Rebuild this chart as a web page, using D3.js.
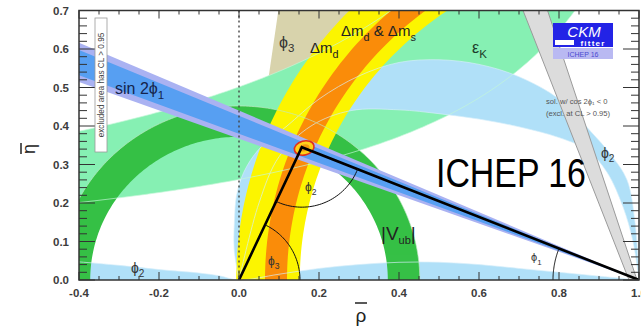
<!DOCTYPE html>
<html><head><meta charset="utf-8">
<script src="https://cdn.jsdelivr.net/npm/d3@7"></script>
<style>body{margin:0;background:#fff}svg{display:block}</style>
</head><body>
<svg id="c" width="641" height="328"></svg>
<script>
// ---------------- data ----------------
const xTicks = [-0.4, -0.2, 0.0, 0.2, 0.4, 0.6, 0.8, 1.0];
const yTicks = [0.0, 0.1, 0.2, 0.3, 0.4, 0.5, 0.6, 0.7];
const apex = [0.157, 0.345];                 // rho-bar, eta-bar of best fit
const vubRadii = [0.372, 0.452];             // |Vub| circle around (0,0)
const dmdRadii = [0.848, 1.007];             // Delta m_d circle around (1,0)
const dmsRadii = [0.88, 0.935];              // Delta m_d & Delta m_s
const sin2bOuter = [20.16, 23.75];           // angle beta (deg) from (1,0)
const sin2bInner = [20.8, 23.1];
const gammaAngles = [62, 82];                // angle gamma (deg) from (0,0)
const epsKk = [0.35, 0.672];                 // eta = k/(a - rho)
const epsKa = 1.34;
const alphaOuter = [[0.0,0.0],[-0.012,0.08],[-0.011,0.16],[-0.006,0.22],[0.012,0.28],[0.05,0.34],[0.12,0.40],[0.2,0.47],[0.3,0.53],[0.4,0.565],[0.5,0.572],[0.6,0.56],[0.7,0.528],[0.8,0.47],[0.88,0.385],[0.93,0.325],[0.97,0.26],[0.99,0.15],[1.0,0.0]];
const alphaInner = [[0.0,0.0],[0.05,0.2],[0.1,0.32],[0.18,0.40],[0.28,0.44],[0.4,0.442],[0.5,0.432],[0.6,0.418],[0.7,0.398],[0.8,0.37],[0.87,0.338],[0.92,0.28],[0.96,0.19],[0.985,0.1],[1.0,0.0]];
const alphaStrip = [[-0.45,0.05],[-0.4,0.047],[-0.3,0.038],[-0.2,0.027],[-0.1,0.018],[-0.05,0.011],[0.0,0.0],[0.1,0.015],[0.2,0.03],[0.3,0.04],[0.4,0.046],[0.5,0.046],[0.6,0.04],[0.7,0.03],[0.8,0.02],[0.9,0.01],[1.0,0.0]];
const cos2bBand = [[0.7025,0.72],[0.765,0.72],[0.995,0.0],[0.975,0.0]];

// ---------------- setup ----------------
const svg = d3.select('#c');
const x = d3.scaleLinear().domain([-0.4, 1.0]).range([79, 639]);
const y = d3.scaleLinear().domain([0, 0.7]).range([280, 10.5]);
const line = d3.line().x(d => x(d[0])).y(d => y(d[1]));
const smooth = d3.line().x(d => x(d[0])).y(d => y(d[1])).curve(d3.curveCatmullRom);
const rad = Math.PI / 180;

svg.append('defs').append('clipPath').attr('id', 'plot')
  .append('rect').attr('x', x(-0.4)).attr('y', y(0.7)).attr('width', x(1.0) - x(-0.4)).attr('height', y(0) - y(0.7));
const g = svg.append('g').attr('clip-path', 'url(#plot)');

function arcPts(cx, cy, r, a0, a1) {
  const pts = []; const s = a1 >= a0 ? 1 : -1;
  for (let a = a0; s * (a1 - a) >= 0; a += s) pts.push([cx + r * Math.cos(a * rad), cy + r * Math.sin(a * rad)]);
  return pts;
}
function annulus(cx, cy, r1, r2) {
  return line(arcPts(cx, cy, r2, 0, 180).concat(arcPts(cx, cy, r1, 180, 0))) + 'Z';
}
function wedge(cx, cy, a1, a2, L) {
  const pts = [[cx, cy]];
  for (let i = 0; i <= 40; i++) { const a = (a1 + (a2 - a1) * i / 40) * rad; pts.push([cx + L * Math.cos(a), cy + L * Math.sin(a)]); }
  return line(pts) + 'Z';
}
const epsLo = [], epsHi = [];
for (let r = -0.45; r <= 1.06; r += 0.01) { epsLo.push([r, epsKk[0] / (epsKa - r)]); epsHi.push([r, Math.min(2, epsKk[1] / (epsKa - r))]); }

// gamma (phi3)
g.append('path').attr('d', wedge(0, 0, gammaAngles[0], gammaAngles[1], 2)).attr('fill', '#d8d3ad');
// epsilon_K
g.append('path').attr('d', line(epsLo.concat(epsHi.slice().reverse())) + 'Z').attr('fill', '#86f0b3');
// alpha (phi2)
g.append('path').attr('d', smooth(alphaOuter) + 'L' + smooth(alphaInner.slice().reverse()).slice(1) + 'Z').attr('fill', '#b0e0f8');
g.append('path').attr('d', smooth(alphaStrip) + 'L' + x(1.0) + ',' + y(0) + 'L' + x(-0.45) + ',' + y(0) + 'Z').attr('fill', '#b0e0f8');
// |Vub|
g.append('path').attr('d', annulus(0, 0, vubRadii[0], vubRadii[1])).attr('fill', '#36c046');
// Delta m
g.append('path').attr('d', annulus(1, 0, dmdRadii[0], dmdRadii[1])).attr('fill', '#fcf500');
g.append('path').attr('d', annulus(1, 0, dmsRadii[0], dmsRadii[1])).attr('fill', '#fa8c0a');

// pale contour lines of other constraints, drawn over the filled bands
const pale = g.append('g').attr('fill', 'none').attr('stroke-width', 0.9).attr('opacity', 0.75);
pale.append('path').attr('d', line(epsLo)).attr('stroke', '#c4f7d8');
pale.append('path').attr('d', line(epsHi)).attr('stroke', '#c4f7d8');
pale.append('path').attr('d', smooth(alphaOuter)).attr('stroke', '#d6eefa');
pale.append('path').attr('d', smooth(alphaInner)).attr('stroke', '#d6eefa');
pale.append('path').attr('d', smooth(alphaStrip)).attr('stroke', '#d6eefa');
pale.append('path').attr('d', line(arcPts(0, 0, vubRadii[1], 0, 180))).attr('stroke', '#bfe8c4');

// sin 2beta
g.append('path').attr('d', wedge(1, 0, 180 - sin2bOuter[1], 180 - sin2bOuter[0], 2)).attr('fill', '#aab2f2');
g.append('path').attr('d', wedge(1, 0, 180 - sin2bInner[1], 180 - sin2bInner[0], 2)).attr('fill', '#579ff2');
// excluded cos2beta<0 band
g.append('path').attr('d', line(cos2bBand) + 'Z').attr('fill', '#dcdcdc').attr('stroke', '#9a9a9a').attr('stroke-width', 1);

// apex ellipse
{
  const cx = x(apex[0] + 0.006), cy = y(apex[1] - 0.002);
  g.append('ellipse').attr('cx', cx).attr('cy', cy).attr('rx', 10).attr('ry', 7).attr('transform', `rotate(-15,${cx},${cy})`)
    .attr('fill', '#ffd21a').attr('stroke', '#e0301e').attr('stroke-width', 1.6);
  g.append('ellipse').attr('cx', cx).attr('cy', cy).attr('rx', 5.5).attr('ry', 3.5).attr('transform', `rotate(-15,${cx},${cy})`)
    .attr('fill', '#f39a10');
}

// triangle
g.append('path').attr('d', line([[0, 0], apex, [1, 0]])).attr('fill', 'none').attr('stroke', '#000').attr('stroke-width', 2.6).attr('stroke-linejoin', 'miter');

// angle arcs (pixel radii)
function pixArc(px, py, a1, a2, R) {
  const p = d3.path(); const n = 40;
  for (let i = 0; i <= n; i++) { const a = a1 + (a2 - a1) * i / n; const X = px + R * Math.cos(a), Y = py + R * Math.sin(a); i ? p.lineTo(X, Y) : p.moveTo(X, Y); }
  return p.toString();
}
{
  const O = [x(0), y(0)], A = [x(apex[0]), y(apex[1])], B = [x(1), y(0)];
  const ang = (p, q) => Math.atan2(q[1] - p[1], q[0] - p[0]);
  g.append('path').attr('d', pixArc(O[0], O[1], ang(O, A), 0, 61)).attr('fill', 'none').attr('stroke', '#111').attr('stroke-width', 1);
  g.append('path').attr('d', pixArc(A[0], A[1], ang(A, B), ang(A, O), 60)).attr('fill', 'none').attr('stroke', '#111').attr('stroke-width', 1);
  g.append('path').attr('d', pixArc(B[0], B[1], Math.PI, ang(B, A) + 2 * Math.PI, 86)).attr('fill', 'none').attr('stroke', '#111').attr('stroke-width', 1);
}

// dashed rho=0 line
g.append('line').attr('x1', x(0)).attr('x2', x(0)).attr('y1', y(0.7)).attr('y2', y(0))
  .attr('stroke', '#444').attr('stroke-width', 1.4).attr('stroke-dasharray', '2,3');

// ---------------- axes frame and ticks ----------------
const ax = svg.append('g').attr('stroke', '#333').attr('stroke-width', 1);
ax.append('rect').attr('x', x(-0.4)).attr('y', y(0.7)).attr('width', x(1) - x(-0.4)).attr('height', y(0) - y(0.7)).attr('fill', 'none').attr('stroke-width', 1.5);
for (let i = 0; i <= 28; i++) {
  const v = -0.4 + i * 0.05;
  const L = i % 4 === 0 ? 8 : 4;
  ax.append('line').attr('x1', x(v)).attr('x2', x(v)).attr('y1', y(0)).attr('y2', y(0) - L);
  ax.append('line').attr('x1', x(v)).attr('x2', x(v)).attr('y1', y(0.7)).attr('y2', y(0.7) + L);
}
for (let i = 0; i <= 35; i++) {
  const v = i * 0.02;
  const L = i % 5 === 0 ? 16 : 8;
  ax.append('line').attr('x1', x(-0.4)).attr('x2', x(-0.4) + L).attr('y1', y(v)).attr('y2', y(v));
  ax.append('line').attr('x1', x(1.0)).attr('x2', x(1.0) - L).attr('y1', y(v)).attr('y2', y(v));
}
const tf = 'Liberation Sans, Arial, sans-serif';
svg.append('g').selectAll('text').data(xTicks).join('text')
  .attr('x', d => x(d)).attr('y', 297).attr('text-anchor', 'middle')
  .attr('font-family', tf).attr('font-weight', 'bold').attr('font-size', 11.5).attr('fill', '#3c3c3c')
  .text(d => d.toFixed(1));
svg.append('g').selectAll('text').data(yTicks).join('text')
  .attr('x', 69).attr('y', d => y(d) + 4).attr('text-anchor', 'end')
  .attr('font-family', tf).attr('font-weight', 'bold').attr('font-size', 11.5).attr('fill', '#3c3c3c')
  .text(d => d.toFixed(1));

// axis titles
svg.append('text').attr('x', 361).attr('y', 322).attr('text-anchor', 'middle').attr('font-family', tf).attr('font-size', 19).attr('fill', '#222').text('ρ');
svg.append('line').attr('x1', 355).attr('x2', 367).attr('y1', 303).attr('y2', 303).attr('stroke', '#222').attr('stroke-width', 1.5);
svg.append('g').attr('transform', 'translate(35,149) rotate(-90)').call(s => {
  s.append('text').attr('x', 0).attr('y', 0).attr('text-anchor', 'middle').attr('font-family', tf).attr('font-size', 18).attr('fill', '#222').text('η');
  s.append('line').attr('x1', -5).attr('x2', 6).attr('y1', -14).attr('y2', -14).attr('stroke', '#222').attr('stroke-width', 1.5);
});

// ---------------- labels ----------------
const gf = 'Liberation Sans, DejaVu Sans, sans-serif';
function label(xp, yp, main, sub, fs, col, subDy) {
  const t = svg.append('text').attr('x', xp).attr('y', yp).attr('font-family', gf).attr('font-size', fs).attr('fill', col);
  t.append('tspan').text(main);
  if (sub) t.append('tspan').attr('dy', subDy || fs * 0.35).attr('font-size', fs * 0.72).text(sub);
  return t;
}
label(115, 94, 'sin 2ϕ', '1', 16, '#15244c', 5);
label(279, 48, 'ϕ', '3', 16, '#333', 4);
label(310, 53, 'Δm', 'd', 15, '#222', 5);
label(341, 36, 'Δm', 'd', 15, '#222', 5).call(t => { t.append('tspan').attr('dy', -5).attr('font-size', 15).text(' & Δm'); t.append('tspan').attr('dy', 5).attr('font-size', 11).text('s'); });
label(472, 53, 'ε', 'K', 16, '#1d3d2a', 5);
label(381, 240, '|V', null, 19, '#222').call(t => { t.append('tspan').attr('dy', 4).attr('font-size', 11).text('ub'); t.append('tspan').attr('dy', -4).attr('font-size', 19).text('|'); });
label(601, 158, 'ϕ', '2', 14, '#333', 4);
label(131, 273, 'ϕ', '2', 14, '#333', 4);
label(531, 261, 'ϕ', '1', 11, '#333', 4);
label(305, 191, 'ϕ', '2', 12, '#333', 4);
label(268, 265, 'ϕ', '3', 12, '#333', 4);

// ICHEP 16 big text (horizontally condensed to the reference width)
{
  const t = svg.append('text').attr('font-family', 'Liberation Sans, Arial, sans-serif').attr('font-size', 40).attr('fill', '#000').text('ICHEP 16');
  const w = t.node().getComputedTextLength();
  t.attr('transform', `translate(436,187) scale(${150 / w},1)`);
}

// excluded area vertical note
svg.append('rect').attr('x', 95).attr('y', 18).attr('width', 12).attr('height', 134).attr('fill', '#fff').attr('stroke', '#999').attr('stroke-width', 0.8);
svg.append('text').attr('transform', 'translate(104,85) rotate(-90)').attr('text-anchor', 'middle').attr('font-family', tf).attr('font-size', 8.2).attr('fill', '#444')
  .text('excluded area has CL > 0.95');

// cos 2beta note
svg.append('text').attr('x', 546).attr('y', 104).attr('font-family', tf).attr('font-size', 7.6).attr('fill', '#555').text('sol. w/ cos 2ϕ₁ < 0');
svg.append('text').attr('x', 546).attr('y', 116).attr('font-family', tf).attr('font-size', 7.6).attr('fill', '#555').text('(excl. at CL > 0.95)');

// CKMfitter logo
svg.append('rect').attr('x', 553).attr('y', 23).attr('width', 60).attr('height', 24).attr('fill', '#2323e6');
svg.append('text').attr('x', 584).attr('y', 37).attr('text-anchor', 'middle').attr('font-family', tf).attr('font-style', 'italic').attr('font-size', 15).attr('fill', '#fff').text('CKM');
svg.append('rect').attr('x', 555).attr('y', 40).attr('width', 19).attr('height', 5).attr('fill', '#fff');
svg.append('text').attr('x', 593).attr('y', 46).attr('text-anchor', 'middle').attr('font-family', tf).attr('font-weight', 'bold').attr('font-size', 8).attr('letter-spacing', 1.2).attr('fill', '#fff').text('fitter');
svg.append('rect').attr('x', 553).attr('y', 48).attr('width', 60).attr('height', 11).attr('fill', '#b9b9f2');
svg.append('text').attr('x', 583).attr('y', 56.5).attr('text-anchor', 'middle').attr('font-family', tf).attr('font-size', 7).attr('fill', '#4a4ad0').text('ICHEP 16');
</script>
</body></html>
